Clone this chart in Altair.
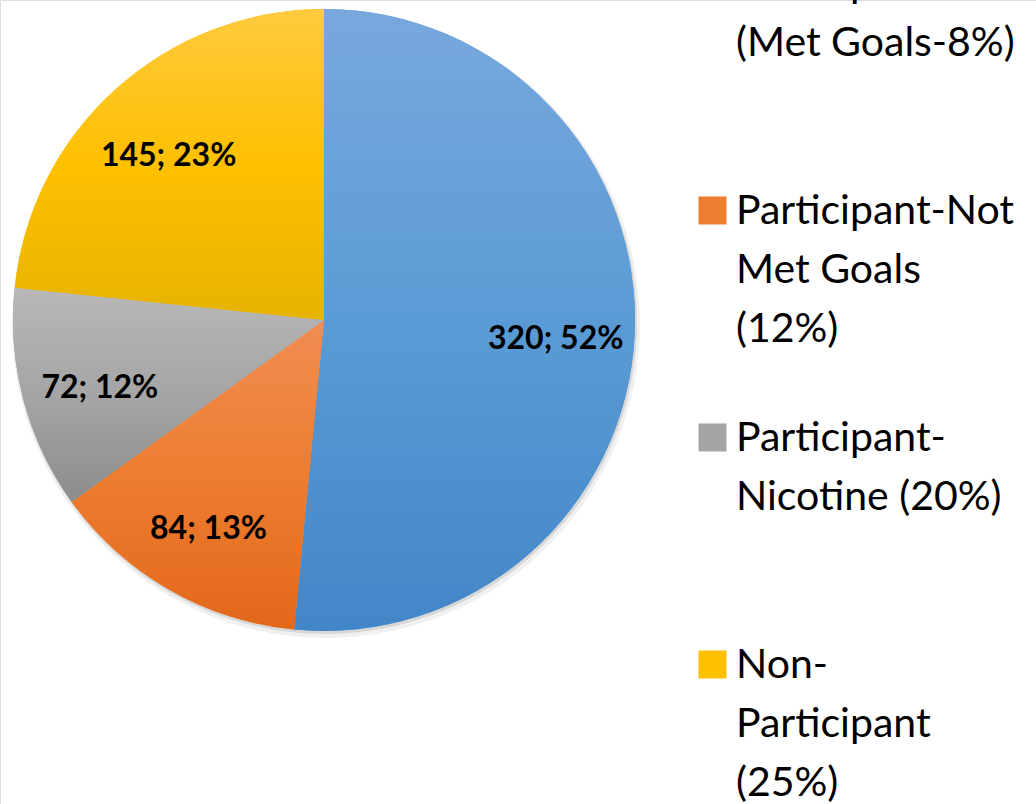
import altair as alt
import pandas as pd

# ---- data ----
legend_lines = [
    ["Participant", "(Met Goals-8%)"],
    ["Participant-Not", "Met Goals", "(12%)"],
    ["Participant-", "Nicotine (20%)"],
    ["Non-", "Participant", "(25%)"],
]
values = [320, 84, 72, 145]
pct_labels = ["52%", "13%", "12%", "23%"]

flat_colors = ["#5B9BD5", "#ED7D31", "#A5A5A5", "#FFC000"]
grad_top = ["#78A8DD", "#F18D52", "#B8B8B8", "#FFCA3F"]
grad_mid = ["#5B9BD5", "#ED7D31", "#A5A5A5", "#FFC000"]
grad_bot = ["#4386C8", "#E2681A", "#8C8C8C", "#E6B300"]

categories = ["|".join(l) for l in legend_lines]
total = sum(values)

df = pd.DataFrame({
    "cat": categories,
    "value": values,
    "idx": list(range(len(values))),
    "label": [f"{v}; {p}" for v, p in zip(values, pct_labels)],
})

CX, CY, R = 324, 320, 311
theta_scale = alt.Scale(domain=[0, total])

base = alt.Chart(df).transform_stack(
    stack="value", groupby=[], as_=["t0", "t1"], sort=[alt.SortField("idx")]
)

# soft shadow
shadow = base.mark_arc(radius=R + 3, fill="#000000", opacity=0.06).encode(
    theta=alt.Theta("t0:Q", stack=None, scale=theta_scale),
    theta2="t1:Q",
    x=alt.value(CX + 2), y=alt.value(CY + 4),
)
shadow2 = base.mark_arc(radius=R + 1, fill="#000000", opacity=0.10).encode(
    theta=alt.Theta("t0:Q", stack=None, scale=theta_scale),
    theta2="t1:Q",
    x=alt.value(CX + 1), y=alt.value(CY + 2),
)

flat = base.mark_arc(radius=R).encode(
    theta=alt.Theta("t0:Q", stack=None, scale=theta_scale),
    theta2="t1:Q",
    x=alt.value(CX), y=alt.value(CY),
    color=alt.Color(
        "cat:N",
        scale=alt.Scale(domain=categories, range=flat_colors),
        legend=alt.Legend(
            title=None,
            orient="none",
            legendX=692,
            legendY=-24,
            direction="vertical",
            columns=1,
            gridAlign="all",
            symbolType="M -1 -1.93 H 1 V 0.07 H -1 Z",
            symbolSize=784,
            symbolStrokeWidth=0,
            symbolOpacity=1,
            labelExpr="split(datum.label, '|')",
            labelFont="Lato",
            labelFontSize=41,
            labelColor="#000000",
            labelLimit=400,
            labelBaseline="alphabetic",
            labelOffset=3,
            rowPadding=67,
        ),
    ),
)

layers = [shadow, shadow2, flat]
for i in range(len(values)):
    g = alt.Gradient(
        gradient="linear",
        x1=0, x2=0, y1=0, y2=1,
        stops=[
            alt.GradientStop(color=grad_top[i], offset=0),
            alt.GradientStop(color=grad_mid[i], offset=0.5),
            alt.GradientStop(color=grad_bot[i], offset=1),
        ],
    )
    layers.append(
        base.transform_filter(alt.datum.idx == i).mark_arc(radius=R, fill=g).encode(
            theta=alt.Theta("t0:Q", stack=None, scale=theta_scale),
            theta2="t1:Q",
            x=alt.value(CX), y=alt.value(CY),
        )
    )

text = base.transform_calculate(mid="(datum.t0 + datum.t1) / 2").mark_text(
    radius=232, dy=8, font="Lato", fontWeight="bold", fontSize=32, color="#000000",
    align="center", baseline="middle",
).encode(
    theta=alt.Theta("mid:Q", stack=None, scale=theta_scale),
    text="label:N",
    x=alt.value(CX), y=alt.value(CY),
)
layers.append(text)

chart = alt.layer(*layers).properties(
    width=1036, height=804,
    autosize=alt.AutoSizeParams(type="none"),
    padding=0,
    background="#FFFFFF",
).configure_view(stroke=None).configure(
    style={"guide-label": {"lineHeight": 59}}
)

chart.save("out.html", embed_options={"renderer": "svg", "actions": False})
